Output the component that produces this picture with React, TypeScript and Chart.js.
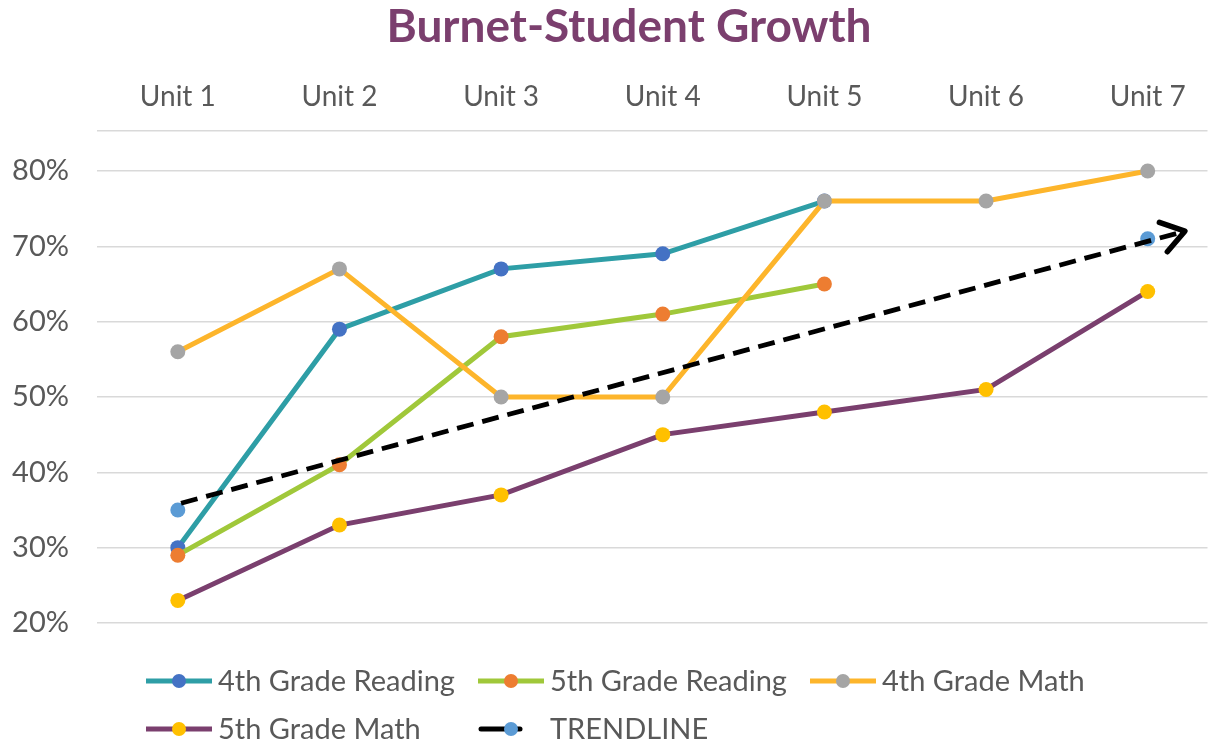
import React, { useEffect, useRef } from "react";
import { Chart, registerables } from "chart.js";

Chart.register(...registerables);

const title = "Burnet-Student Growth";
const units = ["Unit 1", "Unit 2", "Unit 3", "Unit 4", "Unit 5", "Unit 6", "Unit 7"];
const yTicks = [0.2, 0.3, 0.4, 0.5, 0.6, 0.7, 0.8];
const yTop = 0.853;

const reading4 = [0.30, 0.59, 0.67, 0.69, 0.76, null, null];
const reading5 = [0.29, 0.41, 0.58, 0.61, 0.65, null, null];
const math4 = [0.56, 0.67, 0.50, 0.50, 0.76, 0.76, 0.80];
const math5 = [0.23, 0.33, 0.37, 0.45, 0.48, 0.51, 0.64];
const trendPoints = [0.35, null, null, null, null, null, 0.71];
// dashed arrow (data coordinates: unit index, value)
const trendArrowStart = { x: 0.02, y: 0.359 };
const trendArrowEnd = { x: 6.23, y: 0.72 };

const FONT = "Lato";
const TEXT = "#595959";

const toXY = (arr: (number | null)[]) => arr.map((v, i) => ({ x: i, y: v }));

const seriesDefs = [
  { label: "4th Grade Reading", data: reading4, line: "#2E9EA6", point: "#4472C4" },
  { label: "5th Grade Reading", data: reading5, line: "#A0C83A", point: "#ED7D31" },
  { label: "4th Grade Math", data: math4, line: "#FDB52B", point: "#A5A5A5" },
  { label: "5th Grade Math", data: math5, line: "#7A3F6E", point: "#FFC000" },
];

const overlayPlugin = {
  id: "overlay",
  afterDatasetsDraw(chart: any) {
    const ctx = chart.ctx;
    const xs = chart.scales.x;
    const ys = chart.scales.y;
    const x1 = xs.getPixelForValue(trendArrowStart.x);
    const y1 = ys.getPixelForValue(trendArrowStart.y);
    const x2 = xs.getPixelForValue(trendArrowEnd.x);
    const y2 = ys.getPixelForValue(trendArrowEnd.y);
    const ang = Math.atan2(y2 - y1, x2 - x1);
    ctx.save();
    ctx.strokeStyle = "#000";
    ctx.lineWidth = 4.8;
    ctx.setLineDash([17, 9]);
    ctx.beginPath();
    ctx.moveTo(x1, y1);
    ctx.lineTo(x2 - 6 * Math.cos(ang), y2 - 6 * Math.sin(ang));
    ctx.stroke();
    ctx.setLineDash([]);
    ctx.lineCap = "round";
    ctx.lineJoin = "round";
    ctx.lineWidth = 5.5;
    const L = 27;
    const spread = 0.6;
    ctx.beginPath();
    ctx.moveTo(x2 + L * Math.cos(ang + Math.PI - spread), y2 + L * Math.sin(ang + Math.PI - spread));
    ctx.lineTo(x2, y2);
    ctx.lineTo(x2 + L * Math.cos(ang + Math.PI + spread), y2 + L * Math.sin(ang + Math.PI + spread));
    ctx.stroke();
    ctx.restore();
  },
  afterDraw(chart: any) {
    const ctx = chart.ctx;
    ctx.save();
    ctx.fillStyle = "#7B3F6E";
    ctx.font = `bold 46px ${FONT}`;
    ctx.textAlign = "center";
    ctx.textBaseline = "middle";
    ctx.fillText(title, 629, 27);
    chart.data.datasets.forEach((d: any, i: number) => {
      const col = i % 3;
      const row = Math.floor(i / 3);
      const lx = 146 + col * 332;
      const ly = 681 + row * 48;
      ctx.lineCap = "butt";
      ctx.lineWidth = 5;
      if (d.isTrend) {
        ctx.strokeStyle = "#000";
        ctx.lineCap = "round";
        ctx.beginPath();
        ctx.moveTo(lx + 3, ly);
        ctx.lineTo(lx + 42, ly);
        ctx.stroke();
      } else {
        ctx.strokeStyle = d.borderColor;
        ctx.beginPath();
        ctx.moveTo(lx, ly);
        ctx.lineTo(lx + 66, ly);
        ctx.stroke();
      }
      ctx.fillStyle = d.pointBackgroundColor;
      ctx.beginPath();
      ctx.arc(lx + 33, ly, 7, 0, Math.PI * 2);
      ctx.fill();
      ctx.fillStyle = TEXT;
      ctx.font = `29px ${FONT}`;
      ctx.textAlign = "left";
      ctx.textBaseline = "middle";
      ctx.fillText(d.label, lx + 72, ly + 1);
    });
    ctx.restore();
  },
};

export default function App() {
  const ref = useRef<HTMLCanvasElement | null>(null);
  useEffect(() => {
    if (!ref.current) return;
    const datasets: any[] = seriesDefs.map((s, i) => ({
      label: s.label,
      data: toXY(s.data),
      order: -i,
      borderColor: s.line,
      backgroundColor: s.line,
      pointBackgroundColor: s.point,
      pointBorderColor: s.point,
      pointRadius: 7.5,
      pointBorderWidth: 0,
      borderWidth: 5,
      tension: 0,
      spanGaps: false,
    }));
    datasets.push({
      label: "TRENDLINE",
      isTrend: true,
      order: -10,
      data: toXY(trendPoints),
      showLine: false,
      borderColor: "#000",
      pointBackgroundColor: "#5B9BD5",
      pointBorderColor: "#5B9BD5",
      pointRadius: 7.5,
      pointBorderWidth: 0,
    });
    const chart = new Chart(ref.current, {
      type: "line",
      data: { datasets },
      plugins: [overlayPlugin],
      options: {
        responsive: false,
        animation: false,
        layout: { padding: { top: 0, bottom: 121, left: 0, right: 0 } },
        plugins: {
          legend: { display: false },
          title: { display: false },
          tooltip: { enabled: false },
        },
        scales: {
          x: {
            type: "linear",
            position: "top",
            min: -0.5,
            max: 6.37,
            grid: { display: false, drawTicks: false },
            border: { display: false },
            afterFit: (s: any) => {
              s.height = 131;
            },
            afterBuildTicks: (s: any) => {
              s.ticks = units.map((_, i) => ({ value: i }));
            },
            ticks: {
              autoSkip: false,
              maxRotation: 0,
              padding: 17,
              color: TEXT,
              font: { family: FONT, size: 28 },
              callback: (v: any) => units[v as number] ?? "",
            },
          },
          y: {
            min: 0.2,
            max: yTop,
            grid: { color: "#D9D9D9", lineWidth: 1.5, drawTicks: false },
            border: { display: false },
            afterFit: (s: any) => {
              s.width = 97;
            },
            afterBuildTicks: (s: any) => {
              s.ticks = [...yTicks, yTop].map((v) => ({ value: v }));
            },
            ticks: {
              padding: 28,
              color: TEXT,
              font: { family: FONT, size: 29 },
              callback: (v: any) => (v === yTop ? "" : Math.round((v as number) * 100) + "%"),
            },
          },
        },
      } as any,
    });
    return () => chart.destroy();
  }, []);
  return (
    <div style={{ position: "fixed", left: 0, top: 0, width: 1215, height: 744, background: "#fff" }}>
      <canvas ref={ref} width={1215} height={744} style={{ display: "block" }} />
    </div>
  );
}
